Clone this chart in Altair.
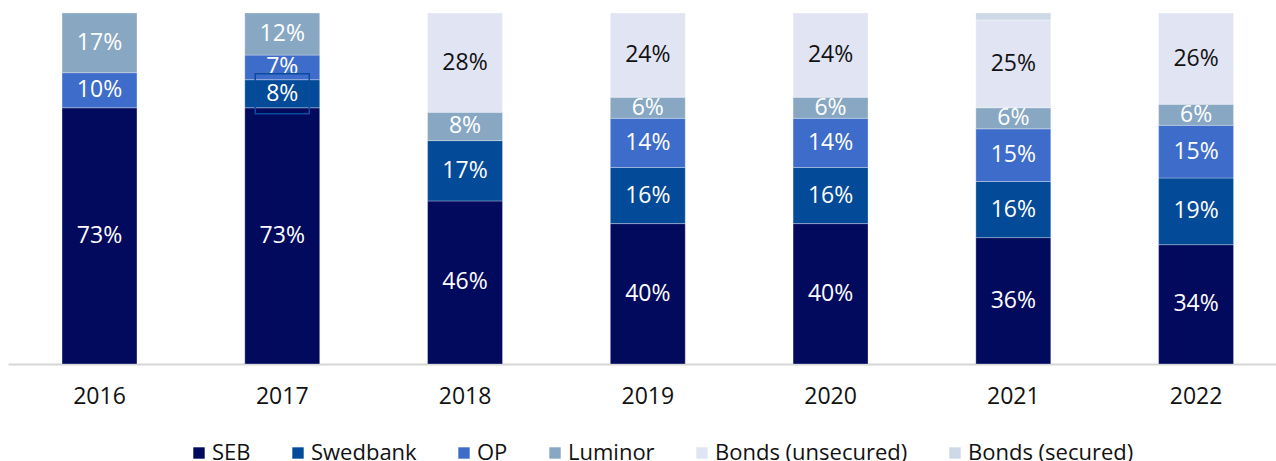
import altair as alt
import pandas as pd

# Funding mix by year, in percent of total
years = ["2016", "2017", "2018", "2019", "2020", "2021", "2022"]
seb = [73, 73, 46, 40, 40, 36, 34]
swedbank = [0, 8, 17, 16, 16, 16, 19]
op = [10, 7, 0, 14, 14, 15, 15]
luminor = [17, 12, 8, 6, 6, 6, 6]
bonds_unsecured = [0, 0, 28, 24, 24, 25, 26]
bonds_secured = [0, 0, 0, 0, 0, 2, 0]

series_names = ["SEB", "Swedbank", "OP", "Luminor", "Bonds (unsecured)", "Bonds (secured)"]
series_values = [seb, swedbank, op, luminor, bonds_unsecured, bonds_secured]
series_colors = ["#020a5e", "#034a98", "#3e6ccb", "#88a7c2", "#e1e4f3", "#cdd9e6"]

# Segment whose label carries an outline box
boxed = ("2017", "Swedbank")

rows = []
for order, (name, vals) in enumerate(zip(series_names, series_values)):
    for year, v in zip(years, vals):
        if v > 0:
            rows.append({
                "year": year,
                "series": name,
                "order": order,
                "value": v,
                "boxed": (year, name) == boxed,
            })
df = pd.DataFrame(rows)

FONT = "Open Sans"

base = (
    alt.Chart(df)
    .transform_joinaggregate(total="sum(value)", groupby=["year"])
    .transform_calculate(share="datum.value / datum.total")
    .transform_stack(
        stack="share",
        groupby=["year"],
        as_=["y0", "y1"],
        sort=[alt.SortField("order", order="ascending")],
    )
    .transform_calculate(mid="(datum.y0 + datum.y1) / 2", label="datum.value + '%'")
)

x_enc = alt.X(
    "year:N",
    sort=years,
    title=None,
    scale=alt.Scale(paddingInner=0.59, paddingOuter=0.264, align=0.56),
    axis=alt.Axis(
        labelAngle=0,
        labelFontSize=23,
        labelFont=FONT,
        labelColor="#111111",
        labelPadding=21,
        ticks=False,
        domainColor="#d6d6d6",
        domainWidth=2,
        grid=False,
    ),
)
y_scale = alt.Scale(domain=[0, 1], nice=False, zero=True)

bars = base.mark_bar(stroke="white", strokeWidth=0.6, strokeOpacity=0.5).encode(
    x=x_enc,
    y=alt.Y("y0:Q", scale=y_scale, axis=None),
    y2="y1:Q",
    color=alt.Color(
        "series:N",
        scale=alt.Scale(domain=series_names, range=series_colors),
        sort=series_names,
        legend=alt.Legend(
            title=None,
            orient="none",
            direction="horizontal",
            legendX=180,
            legendY=429,
            symbolType="square",
            symbolSize=130,
            symbolStrokeWidth=0,
            labelFontSize=22,
            labelFont=FONT,
            labelColor="#111111",
            labelOffset=2,
            labelLimit=0,
            columnPadding=36,
        ),
    ),
    order=alt.Order("order:Q"),
)

labels = (
    base.transform_filter("datum.value >= 3")
    .mark_text(fontSize=23, font=FONT, baseline="middle", align="center")
    .encode(
        x=alt.X("year:N", sort=years),
        y=alt.Y("mid:Q", scale=y_scale),
        text="label:N",
        color=alt.condition(
            "datum.series == 'Bonds (unsecured)'",
            alt.value("#111111"),
            alt.value("white"),
        ),
    )
)

label_box = (
    base.transform_filter("datum.boxed")
    .mark_point(
        shape="M-1,-0.74H1V0.74H-1Z",
        size=2916,
        filled=False,
        stroke="#0a4c9c",
        strokeWidth=1.5,
        opacity=1,
    )
    .encode(
        x=alt.X("year:N", sort=years),
        y=alt.Y("mid:Q", scale=y_scale),
    )
)

chart = (
    alt.layer(bars, labels, label_box)
    .properties(
        width=1268,
        height=351,
        padding={"left": 8, "top": 13, "right": 0, "bottom": 97},
        autosize=alt.AutoSizeParams(type="none"),
        background="white",
    )
    .configure_view(stroke=None)
)

chart.save("out.html", embed_options={"renderer": "svg", "actions": False})
